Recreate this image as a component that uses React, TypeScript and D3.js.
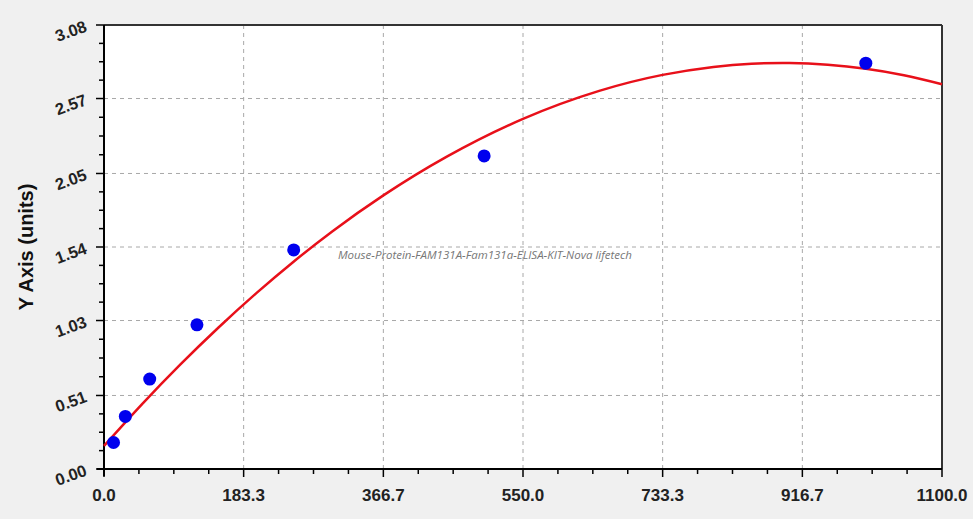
import React, { useEffect, useRef } from 'react';
import * as d3 from 'd3';

// standard points
const concentrations = [12.5, 28, 60, 122, 249, 499, 1000];
const absorbances = [0.184, 0.365, 0.624, 1.0, 1.52, 2.172, 2.815];

// fitted curve
const curveX = [0, 50, 100, 150, 200, 250, 300, 366.7, 450, 550, 650, 733.3, 800, 850, 900, 950, 1000, 1050, 1100];
const curveY = [0.16, 0.45, 0.724, 0.98, 1.22, 1.443, 1.65, 1.898, 2.167, 2.429, 2.623, 2.734, 2.789, 2.811, 2.816, 2.804, 2.776, 2.731, 2.669];

const xTicks = [0, 183.3, 366.7, 550.0, 733.3, 916.7, 1100.0];
const yTicks = [0, 0.51, 1.03, 1.54, 2.05, 2.57, 3.08];

const watermark = 'Mouse-Protein-FAM131A-Fam131a-ELISA-KIT-Nova lifetech';
const yTitle = 'Y Axis (units)';

const App = () => {
  const ref = useRef<SVGSVGElement>(null);

  useEffect(() => {
    const width = 973, height = 519;
    const m = { top: 25, right: 31, bottom: 50, left: 104 };
    const iw = width - m.left - m.right;
    const ih = height - m.top - m.bottom;

    const svg = d3.select(ref.current);
    svg.selectAll('*').remove();
    svg.attr('width', width).attr('height', height);

    svg.append('rect').attr('width', width).attr('height', height).attr('fill', '#f0f0f0');

    const g = svg.append('g').attr('transform', `translate(${m.left},${m.top})`);

    const x = d3.scaleLinear().domain([0, 1100]).range([0, iw]);
    const y = d3.scaleLinear().domain([0, 3.08]).range([ih, 0]);

    g.append('rect').attr('width', iw).attr('height', ih).attr('fill', '#fff');

    // grid
    g.selectAll('.gx')
      .data(xTicks.slice(1, -1))
      .enter()
      .append('line')
      .attr('x1', d => x(d)).attr('x2', d => x(d))
      .attr('y1', 0).attr('y2', ih)
      .attr('stroke', '#a8a8a8')
      .attr('stroke-dasharray', '4,4');

    g.selectAll('.gy')
      .data(yTicks.slice(1, -1))
      .enter()
      .append('line')
      .attr('x1', 0).attr('x2', iw)
      .attr('y1', d => y(d)).attr('y2', d => y(d))
      .attr('stroke', '#a8a8a8')
      .attr('stroke-dasharray', '4,4');

    // frame top / right
    g.append('line').attr('x1', 0).attr('x2', iw).attr('y1', 0).attr('y2', 0)
      .attr('stroke', '#333').attr('stroke-width', 2);
    g.append('line').attr('x1', iw).attr('x2', iw).attr('y1', 0).attr('y2', ih)
      .attr('stroke', '#333').attr('stroke-width', 2);

    // minor tick positions (4 subdivisions between majors)
    const xMinor: number[] = [];
    const yMinor: number[] = [];
    for (let i = 0; i < xTicks.length - 1; i++) {
      for (let k = 1; k < 4; k++) xMinor.push(xTicks[i] + (xTicks[i + 1] - xTicks[i]) * k / 4);
    }
    for (let i = 0; i < yTicks.length - 1; i++) {
      for (let k = 1; k < 4; k++) yMinor.push(yTicks[i] + (yTicks[i + 1] - yTicks[i]) * k / 4);
    }

    const xAxis = g.append('g').attr('transform', `translate(0,${ih})`);
    xAxis.append('line').attr('x1', -7).attr('x2', iw).attr('stroke', '#000').attr('stroke-width', 2);
    xAxis.selectAll('.mj').data(xTicks).enter().append('line')
      .attr('x1', d => x(d)).attr('x2', d => x(d)).attr('y1', 0).attr('y2', 8)
      .attr('stroke', '#000').attr('stroke-width', 1.5);
    xAxis.selectAll('.mn').data(xMinor).enter().append('line')
      .attr('x1', d => x(d)).attr('x2', d => x(d)).attr('y1', 0).attr('y2', 5)
      .attr('stroke', '#000').attr('stroke-width', 1.5);
    xAxis.selectAll('text').data(xTicks).enter().append('text')
      .attr('x', d => x(d)).attr('y', 32)
      .attr('text-anchor', 'middle')
      .style('font-family', 'Arial, "Liberation Sans", sans-serif')
      .style('font-weight', 'bold')
      .style('font-size', '17px')
      .style('fill', '#222')
      .text(d => d.toFixed(1));

    const yAxis = g.append('g');
    yAxis.append('line').attr('y1', 0).attr('y2', ih + 7).attr('stroke', '#000').attr('stroke-width', 2);
    yAxis.selectAll('.mj').data(yTicks).enter().append('line')
      .attr('y1', d => y(d)).attr('y2', d => y(d)).attr('x1', -8).attr('x2', 0)
      .attr('stroke', '#000').attr('stroke-width', 1.5);
    yAxis.selectAll('.mn').data(yMinor).enter().append('line')
      .attr('y1', d => y(d)).attr('y2', d => y(d)).attr('x1', -5).attr('x2', 0)
      .attr('stroke', '#000').attr('stroke-width', 1.5);
    yAxis.selectAll('text').data(yTicks).enter().append('text')
      .attr('transform', d => `translate(-16,${y(d) + 6}) rotate(-20)`)
      .attr('text-anchor', 'end')
      .style('font-family', 'Arial, "Liberation Sans", sans-serif')
      .style('font-weight', 'bold')
      .style('font-size', '16.5px')
      .style('fill', '#222')
      .text(d => d.toFixed(2));

    svg.append('text')
      .attr('transform', `translate(33,${m.top + ih / 2}) rotate(-90)`)
      .attr('text-anchor', 'middle')
      .style('font-family', 'Arial, "Liberation Sans", sans-serif')
      .style('font-weight', 'bold')
      .style('font-size', '20px')
      .style('fill', '#111')
      .text(yTitle);

    g.append('text')
      .attr('x', x(500)).attr('y', y(1.455))
      .attr('text-anchor', 'middle')
      .style('font-family', '"Open Sans", sans-serif')
      .style('font-style', 'italic')
      .style('font-size', '11.5px')
      .style('fill', '#777')
      .text(watermark);

    const line = d3.line<number>()
      .x((_, i) => x(curveX[i]))
      .y(d => y(d))
      .curve(d3.curveNatural);

    g.append('path')
      .attr('d', line(curveY))
      .attr('fill', 'none')
      .attr('stroke', '#e8101a')
      .attr('stroke-width', 2.5);

    g.selectAll('circle')
      .data(concentrations)
      .enter()
      .append('circle')
      .attr('cx', d => x(d))
      .attr('cy', (_, i) => y(absorbances[i]))
      .attr('r', 6.5)
      .attr('fill', '#0000ee');
  }, []);

  return <svg ref={ref} style={{ position: 'absolute', left: 0, top: 0 }}></svg>;
};

export default App;
